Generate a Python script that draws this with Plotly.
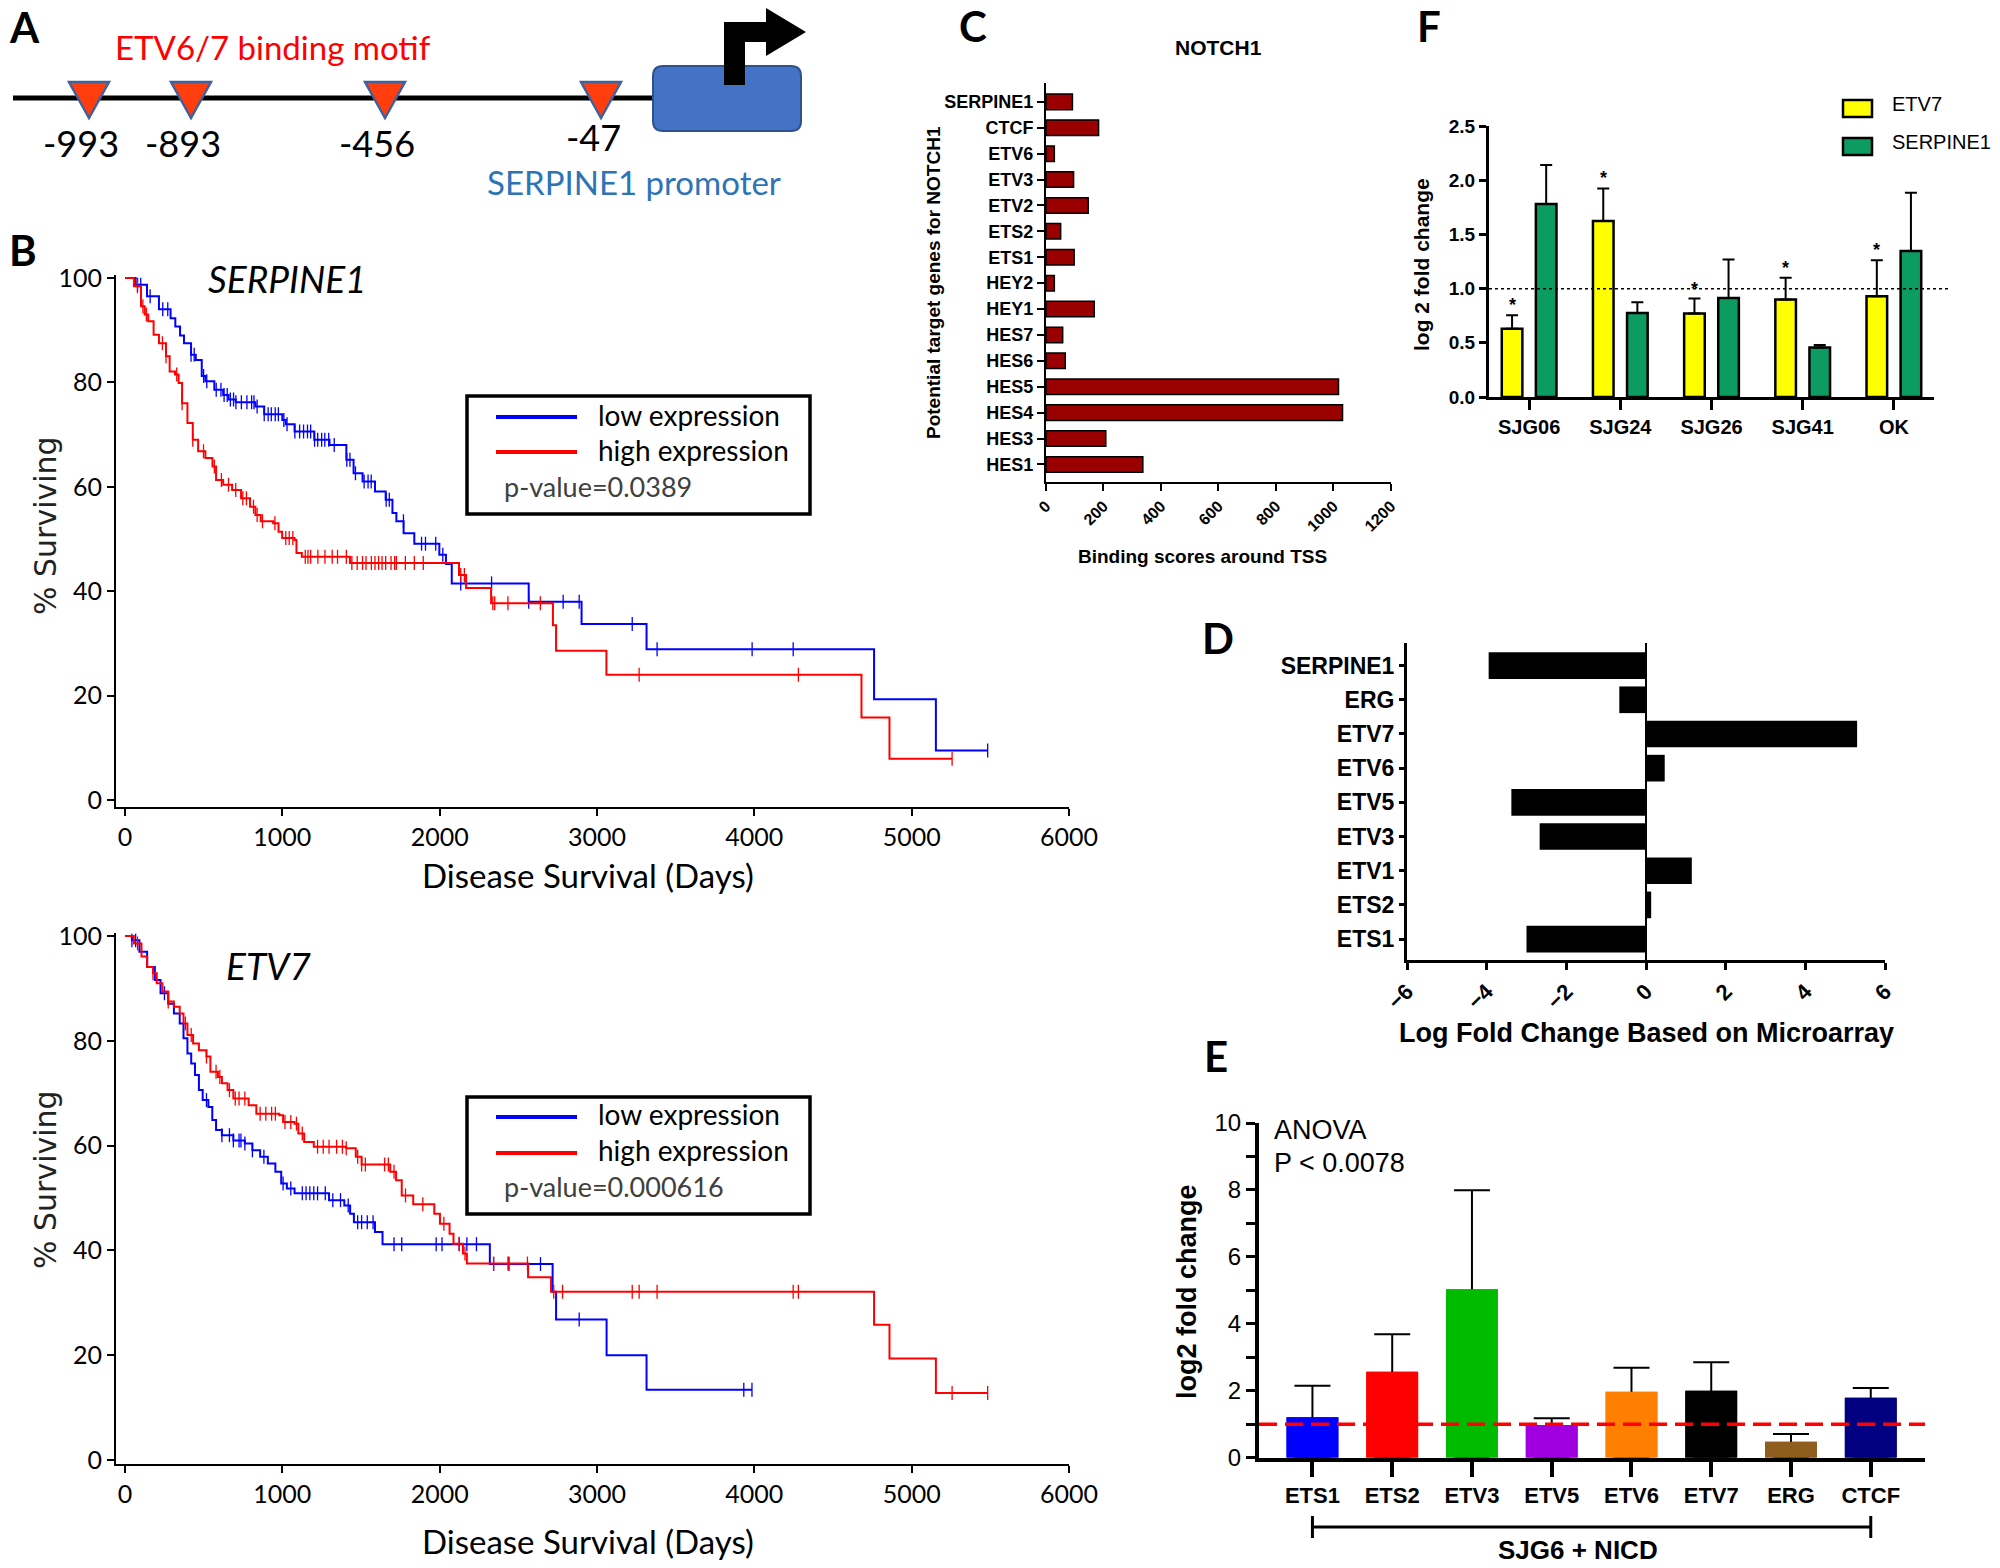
import numpy as np
import plotly.graph_objects as go

ARIAL = 'Liberation Sans, Arial, sans-serif'
CALIBRI = 'Lato, sans-serif'

# ---------------- data ----------------
# A: ETV6/7 motifs in the SERPINE1 promoter
motif_labels = ['-993', '-893', '-456', '-47']

# B: Kaplan-Meier curves; step start (days) and % surviving from there on
serpine1_low_t = [0, 68, 140, 216, 290, 320, 350, 375, 420, 450, 488, 511, 568, 624, 658, 704, 829, 885, 1000, 1022,
                  1078, 1203, 1300, 1407, 1453, 1510, 1589, 1657, 1700, 1725, 1771, 1839, 1998, 2040, 2077, 2566,
                  2902, 3315, 4761, 5154]
serpine1_low_s = [100, 98.7, 96.5, 94.0, 92.3, 90.7, 89.0, 87.5, 85.3, 84.3, 81.2, 80.2, 78.6, 77.6, 76.7, 76.2, 75.4,
                  73.9, 72.8, 72.0, 70.6, 69.0, 68.0, 65.2, 62.6, 61.0, 59.1, 57.5, 55.0, 53.4, 51.1, 49.1, 47.0, 45.2,
                  41.5, 38.0, 33.7, 28.9, 19.3, 9.5]
serpine1_low_cens = [80, 100, 160, 240, 272, 420, 440, 500, 520, 580, 610, 630, 650, 670, 690, 705, 740, 775, 805, 820,
                     840, 885, 910, 930, 955, 975, 1010, 1030, 1080, 1110, 1135, 1160, 1180, 1205, 1225, 1250, 1270,
                     1295, 1330, 1410, 1430, 1465, 1520, 1545, 1565, 1660, 1680, 1770, 1885, 1910, 1975, 2020, 2134,
                     2330, 2566, 2785, 2887, 3224, 3382, 3986, 4247, 5483]

serpine1_high_t = [0, 57, 102, 125, 148, 182, 216, 261, 284, 318, 341, 363, 397, 431, 465, 511, 556, 579, 624, 681,
                   738, 795, 829, 863, 942, 976, 999, 1078, 1090, 1124, 1430, 2123, 2168, 2327, 2720, 2740, 3060,
                   4681, 4859]
serpine1_high_s = [100, 98.4, 94.6, 93.0, 91.7, 89.1, 87.5, 85.0, 82.1, 81.5, 79.9, 76.0, 72.2, 69.0, 66.8, 65.5,
                   63.9, 61.3, 60.4, 59.4, 57.8, 56.2, 54.6, 53.4, 53.0, 51.4, 50.2, 49.8, 47.3, 46.6, 45.4, 43.1,
                   40.6, 37.7, 33.5, 28.6, 24.0, 15.8, 7.9]
serpine1_high_cens = [79, 114, 136, 238, 261, 329, 363, 431, 499, 568, 613, 658, 704, 749, 772, 817, 840, 874, 953,
                      1022, 1044, 1067, 1146, 1163, 1180, 1226, 1271, 1317, 1351, 1407, 1442, 1476, 1510, 1532, 1566,
                      1589, 1612, 1634, 1657, 1691, 1714, 1725, 1782, 1839, 1896, 2134, 2157, 2338, 2350, 2434, 2640,
                      3268, 4280, 5257]

etv7_low_t = [0, 44, 92, 141, 190, 226, 275, 311, 348, 372, 397, 421, 445, 470, 494, 530, 555, 579, 616, 689, 762,
              810, 859, 908, 956, 993, 1029, 1078, 1297, 1394, 1431, 1455, 1589, 1637, 2319, 2718, 2740, 3061, 3315]
etv7_low_s = [100, 99.2, 97.0, 94.1, 91.6, 89.1, 87.1, 85.2, 83.3, 80.5, 77.6, 75.7, 73.5, 70.6, 68.7, 67.4, 64.9,
              63.0, 62.0, 61.0, 60.4, 59.1, 57.9, 56.6, 55.0, 52.8, 51.8, 50.9, 49.6, 48.6, 47.0, 45.4, 43.5, 41.2,
              37.4, 32.1, 26.8, 20.0, 13.4]
etv7_low_cens = [44, 68, 251, 518, 616, 664, 689, 725, 737, 762, 810, 883, 1005, 1054, 1127, 1151, 1175, 1200, 1224,
                 1273, 1321, 1370, 1419, 1479, 1504, 1540, 1577, 1710, 1759, 1978, 2015, 2124, 2173, 2234, 2343,
                 2440, 2641, 2887, 3933, 3985]

etv7_high_t = [0, 56, 105, 141, 178, 202, 238, 275, 311, 348, 372, 397, 433, 470, 518, 543, 591, 616, 652, 689, 786,
               835, 981, 1005, 1078, 1102, 1139, 1200, 1406, 1467, 1504, 1686, 1723, 1759, 1832, 1966, 2002, 2063,
               2088, 2148, 2173, 2562, 2708, 4761, 4859, 5154]
etv7_high_s = [100, 98.6, 96.1, 94.1, 92.9, 91.0, 89.4, 87.5, 86.5, 85.2, 83.3, 81.1, 79.5, 78.2, 77.0, 74.1, 73.1,
               71.9, 70.6, 69.0, 67.7, 66.1, 65.8, 64.5, 64.2, 62.3, 60.7, 59.8, 59.5, 57.9, 56.4, 55.0, 53.4, 50.5,
               48.8, 47.0, 45.1, 43.2, 41.3, 39.4, 37.5, 34.9, 32.1, 25.8, 19.4, 12.8]
etv7_high_cens = [80, 178, 275, 384, 421, 518, 579, 603, 664, 701, 725, 762, 859, 895, 932, 956, 1017, 1054, 1090,
                  1127, 1224, 1260, 1297, 1345, 1382, 1406, 1479, 1504, 1528, 1650, 1674, 1710, 1783, 1893, 2027,
                  2124, 2161, 2343, 2434, 2440, 2558, 2725, 2781, 3224, 3268, 3382, 4247, 4280, 5257, 5483]

# C: NOTCH1 binding scores
notch_genes = ['SERPINE1', 'CTCF', 'ETV6', 'ETV3', 'ETV2', 'ETS2', 'ETS1', 'HEY2', 'HEY1', 'HES7', 'HES6',
               'HES5', 'HES4', 'HES3', 'HES1']
notch_scores = [92, 183, 29, 96, 147, 51, 98, 29, 168, 58, 67, 1018, 1032, 208, 337]

# D: microarray log fold change
micro_genes = ['SERPINE1', 'ERG', 'ETV7', 'ETV6', 'ETV5', 'ETV3', 'ETV1', 'ETS2', 'ETS1']
micro_lfc = [-3.95, -0.67, 5.3, 0.47, -3.38, -2.67, 1.15, 0.13, -3.0]

# E: SJG6 + NICD qPCR
nicd_genes = ['ETS1', 'ETS2', 'ETV3', 'ETV5', 'ETV6', 'ETV7', 'ERG', 'CTCF']
nicd_mean = [1.21, 2.57, 5.03, 0.98, 1.97, 2.0, 0.48, 1.79]
nicd_top = [2.15, 3.69, 7.99, 1.18, 2.69, 2.85, 0.71, 2.08]
nicd_colors = ['#0000FF', '#FF0000', '#00BB00', '#A000E0', '#FF8000', '#000000', '#8F5E1E', '#000080']

# F: cell lines
cell_lines = ['SJG06', 'SJG24', 'SJG26', 'SJG41', 'OK']
etv7_fc = [0.63, 1.625, 0.77, 0.90, 0.93]
etv7_top = [0.754, 1.924, 0.908, 1.10, 1.262]
serp_fc = [1.78, 0.776, 0.914, 0.456, 1.348]
serp_top = [2.14, 0.874, 1.27, 0.48, 1.884]

# ---------------- figure ----------------
fig = go.Figure()


def km(t, s, cens, color, xa, ya):
    xs = list(t) + [max(cens)]
    ys = list(s) + [s[-1]]
    fig.add_trace(go.Scatter(x=xs, y=ys, mode='lines', line=dict(color=color, width=2, shape='hv'),
                             xaxis=xa, yaxis=ya, hoverinfo='skip'))
    idx = np.searchsorted(t, cens, side='right') - 1
    fig.add_trace(go.Scatter(x=cens, y=np.array(s)[idx], mode='markers', xaxis=xa, yaxis=ya, hoverinfo='skip',
                             marker=dict(symbol='line-ns', size=10, color=color, line=dict(color=color, width=1.3))))


km(serpine1_low_t, serpine1_low_s, serpine1_low_cens, '#0000FF', 'x', 'y')
km(serpine1_high_t, serpine1_high_s, serpine1_high_cens, '#FF0000', 'x', 'y')
km(etv7_low_t, etv7_low_s, etv7_low_cens, '#0000FF', 'x2', 'y2')
km(etv7_high_t, etv7_high_s, etv7_high_cens, '#FF0000', 'x2', 'y2')

fig.add_trace(go.Bar(x=notch_scores, y=notch_genes, orientation='h', width=0.6, xaxis='x3', yaxis='y3',
                     marker=dict(color='#9B0000', line=dict(color='black', width=1.5))))

fig.add_trace(go.Bar(x=cell_lines, y=etv7_fc, width=0.226, offset=-0.3, xaxis='x4', yaxis='y4',
                     marker=dict(color='#FFFF00', line=dict(color='black', width=2.5)),
                     error_y=dict(type='data', symmetric=False, array=[a - b for a, b in zip(etv7_top, etv7_fc)],
                                  arrayminus=[0] * 5, color='black', thickness=2, width=6)))
fig.add_trace(go.Bar(x=cell_lines, y=serp_fc, width=0.226, offset=0.074, xaxis='x4', yaxis='y4',
                     marker=dict(color='#0C9C62', line=dict(color='black', width=2.5)),
                     error_y=dict(type='data', symmetric=False, array=[a - b for a, b in zip(serp_top, serp_fc)],
                                  arrayminus=[0] * 5, color='black', thickness=2, width=6)))

fig.add_trace(go.Bar(x=micro_lfc, y=micro_genes, orientation='h', width=0.78, xaxis='x5', yaxis='y5',
                     marker=dict(color='black', line=dict(width=0))))

# E: error bars run from 0 and are hidden inside the bars by a second copy of the bars on top
fig.add_trace(go.Bar(x=nicd_genes, y=nicd_mean, width=0.65, xaxis='x6', yaxis='y6',
                     marker=dict(color=nicd_colors, line=dict(width=0)),
                     error_y=dict(type='data', symmetric=False, array=[a - b for a, b in zip(nicd_top, nicd_mean)],
                                  arrayminus=nicd_mean, color='black', thickness=2, width=18)))
fig.add_trace(go.Bar(x=nicd_genes, y=nicd_mean, width=0.65, xaxis='x6', yaxis='y6',
                     marker=dict(color=nicd_colors, line=dict(width=0))))

# pixel canvas for schematic / free text
fig.add_trace(go.Scatter(x=[], y=[], xaxis='x7', yaxis='y7', hoverinfo='skip'))


def ax(**kw):
    d = dict(showgrid=False, zeroline=False, showline=True, linecolor='black', ticks='outside',
             tickcolor='black', fixedrange=True, automargin=False)
    d.update(kw)
    return d


km_tick = dict(family=CALIBRI, size=25, color='black')
fig.update_layout(
    xaxis=ax(domain=[0.058, 0.5345], range=[-57, 6000], anchor='y', dtick=1000, tick0=0, tickformat='d',
             linewidth=2, tickwidth=2, ticklen=7, tickfont=km_tick),
    yaxis=ax(domain=[0.4851, 0.8244], range=[-1.4, 100.5], anchor='x', dtick=20, tick0=0,
             linewidth=2, tickwidth=2, ticklen=7, tickfont=km_tick),
    xaxis2=ax(domain=[0.058, 0.5345], range=[-57, 6000], anchor='y2', dtick=1000, tick0=0, tickformat='d',
              linewidth=2, tickwidth=2, ticklen=7, tickfont=km_tick),
    yaxis2=ax(domain=[0.0665, 0.4047], range=[-0.7, 100.5], anchor='x2', dtick=20, tick0=0,
              linewidth=2, tickwidth=2, ticklen=7, tickfont=km_tick),
    xaxis3=ax(domain=[0.523, 0.6954], range=[0, 1200], anchor='y3', dtick=200, tickangle=-45,
              linewidth=2, tickwidth=2, ticklen=7,
              tickfont=dict(family=ARIAL, size=16, weight='bold', color='black')),
    yaxis3=ax(domain=[0.6929, 0.9471], range=[14.66, -0.73], anchor='x3', type='category',
              categoryorder='array', categoryarray=notch_genes, linewidth=2, tickwidth=2, ticklen=7,
              tickfont=dict(family=ARIAL, size=18, weight='bold', color='black')),
    xaxis4=ax(domain=[0.7445, 0.967], range=[-0.44, 4.44], anchor='y4', type='category',
              linewidth=3, tickwidth=3, ticklen=10,
              tickfont=dict(family=ARIAL, size=20, weight='bold', color='black')),
    yaxis4=ax(domain=[0.7468, 0.9196], range=[0, 2.5], anchor='x4', dtick=0.5, tickformat='.1f',
              linewidth=3, tickwidth=3, ticklen=7,
              tickfont=dict(family=ARIAL, size=19, weight='bold', color='black')),
    xaxis5=ax(domain=[0.7035, 0.9425], range=[-6, 6], anchor='y5', dtick=2, tickangle=-45,
              zeroline=True, zerolinecolor='black', zerolinewidth=2,
              linewidth=3, tickwidth=3, ticklen=7,
              tickfont=dict(family=ARIAL, size=22, weight='bold', color='black')),
    yaxis5=ax(domain=[0.3878, 0.5899], range=[8.61, -0.66], anchor='x5', type='category',
              categoryorder='array', categoryarray=micro_genes, linewidth=3, tickwidth=3, ticklen=5,
              tickfont=dict(family=ARIAL, size=23, weight='bold', color='black')),
    xaxis6=ax(domain=[0.6295, 0.9625], range=[-0.67, 7.68], anchor='y6', type='category',
              linewidth=4, tickwidth=4, ticklen=15,
              tickfont=dict(family=ARIAL, size=22, weight='bold', color='black')),
    yaxis6=ax(domain=[0.07034, 0.2838], range=[0, 10], anchor='x6',
              tickvals=list(range(11)), ticktext=['0', '', '2', '', '4', '', '6', '', '8', '', '10'],
              linewidth=4, tickwidth=3, ticklen=9,
              tickfont=dict(family=ARIAL, size=24, color='black')),
    xaxis7=dict(domain=[0, 1], range=[0, 2000], anchor='y7', visible=False, fixedrange=True, automargin=False),
    yaxis7=dict(domain=[0, 1], range=[1568, 0], anchor='x7', visible=False, fixedrange=True, automargin=False),
)


def txt(x, y, s, size, family=CALIBRI, color='black', weight='normal', style='normal', xanchor='center', angle=0):
    return dict(x=x, y=y, xref='x7', yref='y7', text=s, showarrow=False, xanchor=xanchor, yanchor='middle',
                textangle=angle, font=dict(family=family, size=size, color=color, weight=weight, style=style))


ann = []
for letter, (lx, ly) in zip('ABCDEF', [(24, 27), (23, 250), (973, 26), (1218, 638), (1216, 1056), (1429, 26)]):
    ann.append(txt(lx, ly, letter, 42, weight='bold'))

# panel A
motif_x = [89, 191, 385, 601]
label_y = [143, 143, 143, 137]
ann.append(txt(273, 47, 'ETV6/7 binding motif', 33, color='#FF0000'))
for lab, mx, my in zip(motif_labels, motif_x, label_y):
    ann.append(txt(mx - 8, my, lab, 36))
ann.append(txt(634, 182, 'SERPINE1 promoter', 33, color='#2E74B5'))

# panel B
ann += [
    txt(287, 278, 'SERPINE1', 37, style='italic'),
    txt(268, 965, 'ETV7', 37, style='italic'),
    txt(45, 526, '% Surviving', 30, family='DejaVu Sans', color='#222222', angle=-90),
    txt(45, 1180, '% Surviving', 30, family='DejaVu Sans', color='#222222', angle=-90),
    txt(588, 875, 'Disease Survival (Days)', 33),
    txt(588, 1541, 'Disease Survival (Days)', 33),
    txt(596, 415, 'low expression', 28, xanchor='left'),
    txt(596, 450, 'high expression', 28, xanchor='left'),
    txt(502, 486, 'p-value=0.0389', 27, color='#404040', xanchor='left'),
    txt(596, 1114, 'low expression', 28, xanchor='left'),
    txt(596, 1150, 'high expression', 28, xanchor='left'),
    txt(502, 1186, 'p-value=0.000616', 27, color='#404040', xanchor='left'),
]

# panel C
ann += [
    txt(1218, 47, 'NOTCH1', 21, family=ARIAL, weight='bold'),
    txt(933, 283, 'Potential target genes for NOTCH1', 19, family=ARIAL, weight='bold', angle=-90),
    txt(1202, 556, 'Binding scores around TSS', 19, family=ARIAL, weight='bold'),
]

# panel F
ann += [
    txt(1890, 104, 'ETV7', 20, family=ARIAL, xanchor='left'),
    txt(1890, 142, 'SERPINE1', 20, family=ARIAL, xanchor='left'),
    txt(1421, 265, 'log 2 fold change', 21, family=ARIAL, weight='bold', angle=-90),
]
for cl, top in zip(cell_lines, etv7_top):
    ann.append(dict(x=cl, y=top, xref='x4', yref='y4', text='*', showarrow=False, xshift=-17, yanchor='bottom',
                    yshift=-2, font=dict(family=ARIAL, size=18, weight='bold', color='black')))

# panel D
ann.append(txt(1646, 1033, 'Log Fold Change Based on Microarray', 27, family=ARIAL, weight='bold'))

# panel E
ann += [
    txt(1187, 1292, 'log2 fold change', 27, family=ARIAL, weight='bold', angle=-90),
    txt(1272, 1130, 'ANOVA', 27, family=ARIAL, xanchor='left'),
    txt(1272, 1163, 'P &lt; 0.0078', 27, family=ARIAL, xanchor='left'),
    txt(1578, 1550, 'SJG6 + NICD', 26, family=ARIAL, weight='bold'),
]

shapes = []
px = dict(xref='x7', yref='y7')
# promoter line, motifs, promoter box, TSS arrow
shapes.append(dict(type='line', x0=13, x1=653, y0=98, y1=98, line=dict(color='black', width=5), **px))
for mx in motif_x:
    shapes.append(dict(type='path', path=f'M {mx - 20},82 L {mx + 20},82 L {mx},118 Z',
                       fillcolor='#FF3D0D', line=dict(color='#41619C', width=2.5), **px))
shapes.append(dict(type='path', fillcolor='#4472C4', line=dict(color='#2F528F', width=2),
                   path='M 663,66 L 791,66 Q 801,66 801,76 L 801,121 Q 801,131 791,131 L 663,131 '
                        'Q 653,131 653,121 L 653,76 Q 653,66 663,66 Z', **px))
shapes.append(dict(type='path', fillcolor='black', line=dict(width=0),
                   path='M 724,85 L 724,22 L 766,22 L 766,8 L 806,32 L 766,56 L 766,42 L 745,42 L 745,85 Z', **px))

# KM legends
for top, bot, yb, yr in [(396, 514, 417, 452), (1097, 1214, 1117, 1153)]:
    shapes.append(dict(type='rect', x0=467, x1=810, y0=top, y1=bot, line=dict(color='black', width=3.5), **px))
    shapes.append(dict(type='line', x0=496, x1=577, y0=yb, y1=yb, line=dict(color='#0000FF', width=4), **px))
    shapes.append(dict(type='line', x0=496, x1=577, y0=yr, y1=yr, line=dict(color='#FF0000', width=4), **px))

# F legend + reference line
shapes.append(dict(type='rect', x0=1843, x1=1872, y0=100, y1=117, fillcolor='#FFFF00',
                   line=dict(color='black', width=2.5), **px))
shapes.append(dict(type='rect', x0=1843, x1=1872, y0=138, y1=155, fillcolor='#0C9C62',
                   line=dict(color='black', width=2.5), **px))
shapes.append(dict(type='line', xref='x4 domain', yref='y4', x0=0, x1=1.034, y0=1, y1=1,
                   line=dict(color='black', width=1.5, dash='dot')))

# E reference line and bracket
shapes.append(dict(type='line', xref='x6 domain', yref='y6', x0=0, x1=1, y0=1, y1=1,
                   line=dict(color='#FF0000', width=3.5, dash='18px,8px')))
yb = 1 - 1527 / 1568
shapes.append(dict(type='line', xref='x6', yref='paper', x0=0, x1=7, y0=yb, y1=yb,
                   line=dict(color='black', width=3)))
for xb in [0, 7]:
    shapes.append(dict(type='line', xref='x6', yref='paper', x0=xb, x1=xb, y0=1 - 1516 / 1568,
                       y1=1 - 1538 / 1568, line=dict(color='black', width=3)))

fig.update_layout(
    template='none',
    width=2000, height=1568, autosize=False,
    margin=dict(l=0, r=0, t=0, b=0),
    paper_bgcolor='white', plot_bgcolor='rgba(0,0,0,0)',
    font=dict(family=ARIAL, color='black'),
    showlegend=False, barmode='overlay', hovermode=False,
    annotations=ann, shapes=shapes,
)

# drop the default 8px page margin so the figure sits at the window origin
fig.write_html('out.html', config={'displayModeBar': False},
               post_script="document.body.style.margin='0px';document.body.style.overflow='hidden';")
